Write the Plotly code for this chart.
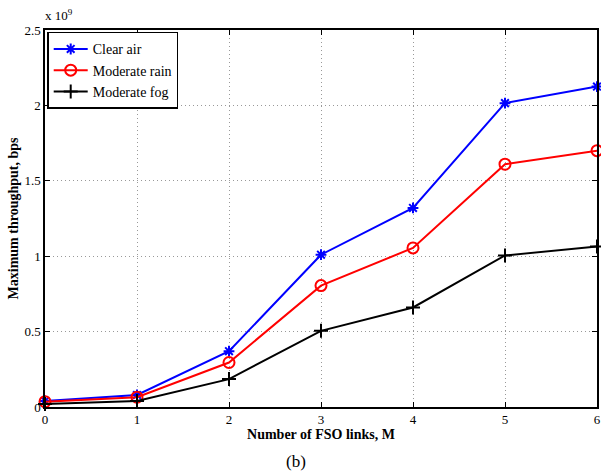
import plotly.graph_objects as go

links = [0, 1, 2, 3, 4, 5, 6]
clear_air = [0.04e9, 0.08e9, 0.37e9, 1.01e9, 1.32e9, 2.015e9, 2.125e9]
moderate_rain = [0.035e9, 0.065e9, 0.295e9, 0.805e9, 1.055e9, 1.61e9, 1.70e9]
moderate_fog = [0.02e9, 0.04e9, 0.185e9, 0.505e9, 0.66e9, 1.005e9, 1.065e9]

y_tickvals = [0, 0.5e9, 1e9, 1.5e9, 2e9, 2.5e9]
y_ticktext = ["0", "0.5", "1", "1.5", "2", "2.5"]

font = "Liberation Serif, Times New Roman, serif"

fig = go.Figure()
fig.add_trace(go.Scatter(x=links, y=clear_air, name="Clear air", mode="lines+markers",
                         line=dict(color="blue", width=2),
                         marker=dict(symbol="asterisk", size=9, color="blue",
                                     line=dict(color="blue", width=2)),
                         cliponaxis=False))
fig.add_trace(go.Scatter(x=links, y=moderate_rain, name="Moderate rain", mode="lines+markers",
                         line=dict(color="red", width=2),
                         marker=dict(symbol="circle-open", size=11, color="red",
                                     line=dict(color="red", width=2)),
                         cliponaxis=False))
fig.add_trace(go.Scatter(x=links, y=moderate_fog, name="Moderate fog", mode="lines+markers",
                         line=dict(color="black", width=2),
                         marker=dict(symbol="cross-thin", size=10, color="black",
                                     line=dict(color="black", width=2)),
                         cliponaxis=False))

axis_common = dict(showline=True, linecolor="black", linewidth=1.5, mirror="ticks",
                   ticks="inside", ticklen=5, tickcolor="black", automargin=False,
                   showgrid=True, gridcolor="#999999", griddash="1px,3px", gridwidth=1,
                   zeroline=False, tickfont=dict(family=font, size=13, color="black"))

fig.update_layout(
    width=601, height=475,
    margin=dict(l=45, r=4, t=30, b=68, autoexpand=False),
    paper_bgcolor="white", plot_bgcolor="white",
    font=dict(family=font, color="black"),
    showlegend=True,
    legend=dict(x=0.004, y=0.995, xanchor="left", yanchor="top",
                bordercolor="black", borderwidth=1.5, bgcolor="white",
                font=dict(family=font, size=14, color="black"),
                itemwidth=34, tracegroupgap=0),
    xaxis=dict(range=[0, 6], tickvals=links,
               title=dict(text="<b>Number of FSO links, M</b>", standoff=2,
                          font=dict(family=font, size=14, color="black")),
               **axis_common),
    yaxis=dict(range=[0, 2.5e9], tickvals=y_tickvals, ticktext=y_ticktext,
               title=dict(text="<b>Maximum throughput, bps</b>", standoff=3,
                          font=dict(family=font, size=14, color="black")),
               **axis_common),
)

fig.add_annotation(text="x 10<sup>9</sup>", xref="paper", yref="paper", x=0.0, y=1.0,
                   xanchor="left", yanchor="bottom", showarrow=False, xshift=-2, yshift=5,
                   font=dict(family=font, size=13, color="black"))
fig.add_annotation(text="(b)", xref="paper", yref="paper", x=0.455, y=0, yshift=-43,
                   xanchor="center", yanchor="top", showarrow=False,
                   font=dict(family=font, size=17, color="black"))

fig.write_html("out.html", config={"displayModeBar": False},
               post_script="document.body.style.margin='0';document.body.style.overflow='hidden';")
